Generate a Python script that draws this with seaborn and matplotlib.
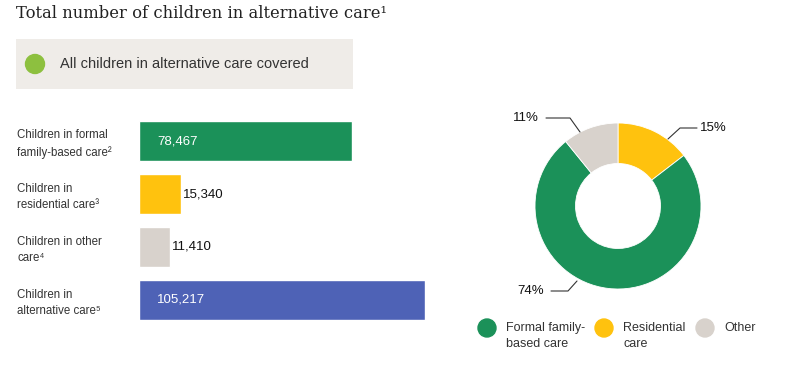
import numpy as np
import pandas as pd
import matplotlib
matplotlib.use("Agg")
import matplotlib.pyplot as plt
import seaborn as sns
from matplotlib.patches import FancyBboxPatch, Circle

sns.set_theme(style="white")
plt.rcParams["font.family"] = ["Liberation Sans", "DejaVu Sans"]

# data
bar_labels = ["Children in formal\nfamily-based care²",
              "Children in\nresidential care³",
              "Children in other\ncare⁴",
              "Children in\nalternative care⁵"]
bar_values = [78467, 15340, 11410, 105217]
bar_colors = ["#1b9159", "#ffc20e", "#d8d2cc", "#4e62b6"]

pie_labels = ["Residential\ncare", "Formal family-\nbased care", "Other"]
pie_counts = [15340, 78467, 11410]
pie_pct = ["15%", "74%", "11%"]
pie_colors = ["#ffc20e", "#1b9159", "#d8d2cc"]

W, H = 789, 384
fig = plt.figure(figsize=(W / 100, H / 100), dpi=100)


def fx(px):
    return px / W


def fy(py):
    return 1 - py / H


def dot(cx, cy, d, color):
    a = fig.add_axes([fx(cx - d / 2), fy(cy + d / 2), fx(d), d / H])
    a.add_patch(Circle((0.5, 0.5), 0.5, color=color, clip_on=False))
    a.set_xlim(0, 1)
    a.set_ylim(0, 1)
    a.axis("off")
    return a


# title
fig.text(fx(16), fy(13), "Total number of children in alternative care¹",
         family=["DejaVu Serif"], fontsize=11.8, color="#222222", va="center")

# grey note box
box = FancyBboxPatch((fx(16), fy(89)), fx(337), (89 - 39) / H,
                     boxstyle="square,pad=0", transform=fig.transFigure,
                     facecolor="#efece8", edgecolor="none", zorder=-5)
fig.patches.append(box)
dot(35, 64, 19, "#8dc03f")
fig.text(fx(60), fy(64), "All children in alternative care covered",
         fontsize=10.5, color="#333333", va="center")

# bar chart
w = 0.755
ax = fig.add_axes([fx(139), fy(320), fx(286), 199 / H])
df = pd.DataFrame({"label": bar_labels, "value": bar_values})
sns.barplot(data=df, x="value", y="label", hue="label", palette=bar_colors,
            orient="h", width=w, legend=False, saturation=1, ax=ax)
ax.set_xlim(0, max(bar_values))
ax.set_ylim(3 + w / 2, -w / 2)
ax.set_xlabel("")
ax.set_ylabel("")
ax.set_xticks([])
ax.set_yticks(range(len(bar_labels)))
ax.set_yticklabels([])
sns.despine(ax=ax, left=True, bottom=True)
for i, (lab, v) in enumerate(zip(bar_labels, bar_values)):
    ax.annotate(lab, xy=(0, i), xycoords=("axes fraction", "data"),
                xytext=(-122, -3), textcoords="offset pixels",
                ha="left", va="center", fontsize=8.3, color="#333333",
                linespacing=1.5)
    txt = f"{v:,}"
    if v > 30000:
        ax.annotate(txt, xy=(0, i), xytext=(18, 0), textcoords="offset pixels",
                    ha="left", va="center", fontsize=9.5, color="white")
    else:
        ax.annotate(txt, xy=(v, i), xytext=(2, 0), textcoords="offset pixels",
                    ha="left", va="center", fontsize=9.5, color="#111111")

# donut
axp = fig.add_axes([fx(518), fy(306), fx(200), 200 / H])
wedges, _ = axp.pie(pie_counts, colors=pie_colors, startangle=90,
                    counterclock=False, radius=0.83,
                    wedgeprops=dict(width=0.405, edgecolor="white", linewidth=0.6))
axp.set_xlim(-1, 1)
axp.set_ylim(-1, 1)
axp.axis("off")

# leader lines: anchor on ring, elbow, end; label position
leaders = {
    "15%": ((0.50, 0.67), (0.62, 0.78), (0.79, 0.78), "left"),
    "74%": ((-0.41, -0.75), (-0.50, -0.85), (-0.67, -0.85), "right"),
    "11%": ((-0.38, 0.74), (-0.48, 0.88), (-0.72, 0.88), "right"),
}
for pct in pie_pct:
    a, b, c, ha = leaders[pct]
    axp.plot([a[0], b[0], c[0]], [a[1], b[1], c[1]], color="#333333",
             lw=0.8, clip_on=False)
    off = 0.03 if ha == "left" else -0.07
    axp.text(c[0] + off, c[1], pct, ha=ha, va="center", fontsize=9.5,
             color="#111111", clip_on=False)

# legend below donut
leg_x = [487, 604, 705]
leg_order = [1, 0, 2]
for px, k in zip(leg_x, leg_order):
    dot(px, 328, 18, pie_colors[k])
    lab = pie_labels[k]
    y = 336 if "\n" in lab else 328
    fig.text(fx(px + 19), fy(y), lab, fontsize=9, color="#333333",
             va="center", linespacing=1.4)

fig.savefig("out.png", dpi=100)
